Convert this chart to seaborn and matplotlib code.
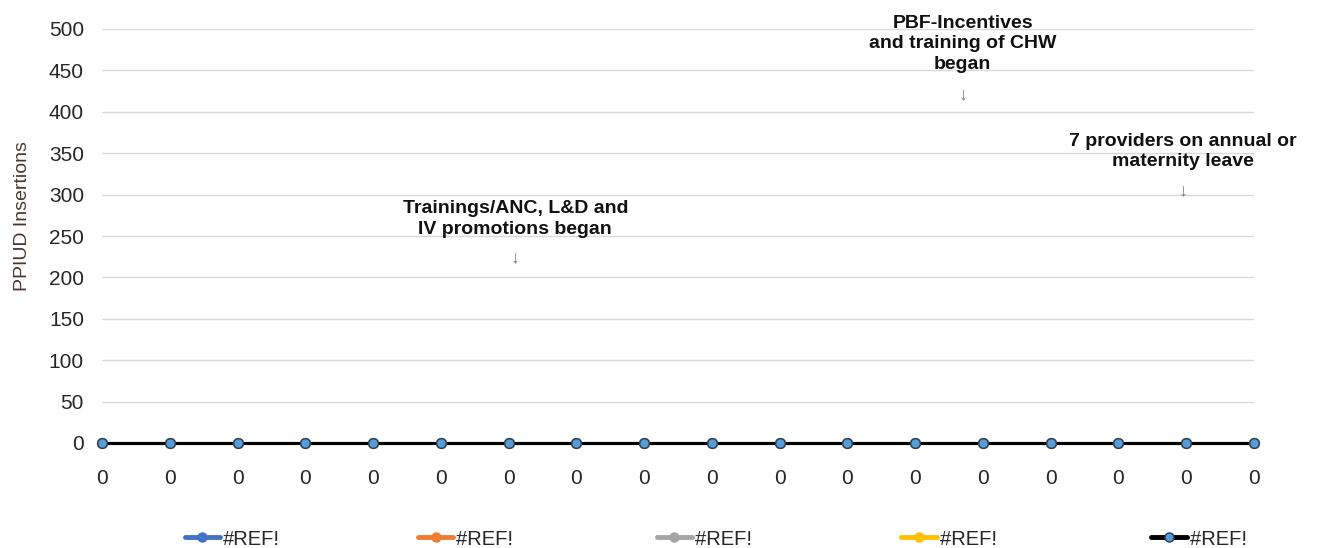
import matplotlib
matplotlib.use("Agg")
import matplotlib.pyplot as plt
from matplotlib.lines import Line2D
import seaborn as sns
import pandas as pd
import numpy as np

# ---- data ----
x_labels = ["0"] * 18
series_names = ["#REF!", "#REF! ", "#REF!  ", "#REF!   ", "#REF!    "]
series_a = [0] * 18
series_b = [0] * 18
series_c = [0] * 18
series_d = [0] * 18
series_e = [0] * 18
y_ticks = [0, 50, 100, 150, 200, 250, 300, 350, 400, 450, 500]

annot_texts = ["Trainings/ANC, L&D and\nIV promotions began",
               "PBF-Incentives\nand training of CHW\nbegan",
               "7 providers on annual or\nmaternity leave"]
annot_x = [6.1, 12.7, 15.95]
annot_text_y = [270, 482, 352]
annot_arrow_y = [224, 420, 304]

sns.set_theme(style="white")
plt.rcParams['font.family'] = ['Liberation Sans', 'DejaVu Sans']

fig = plt.figure(figsize=(13.2, 5.48), dpi=100)
ax = fig.add_axes([102/1320, 1-443/548, (1254-102)/1320, (443-29)/548])

colors = ["#4472C4", "#ED7D31", "#A5A5A5", "#FFC000", "#000000"]
marker_fc = ["#4472C4", "#ED7D31", "#A5A5A5", "#FFC000", "#5B9BD5"]
marker_ec = ["#4472C4", "#ED7D31", "#A5A5A5", "#FFC000", "#1F3F5F"]
all_series = [series_a, series_b, series_c, series_d, series_e]
xpos = np.arange(len(x_labels))

for i, (name, vals) in enumerate(zip(series_names, all_series)):
    df = pd.DataFrame({"x": xpos, "y": vals})
    sns.lineplot(data=df, x="x", y="y", ax=ax, color=colors[i], lw=2.2,
                 marker="o", markersize=7, markerfacecolor=marker_fc[i],
                 markeredgecolor=marker_ec[i], markeredgewidth=1,
                 label=name, clip_on=False, zorder=3 + i)

ax.set_xlim(0, len(x_labels) - 1)
ax.set_ylim(0, 500)
ax.set_yticks(y_ticks)
ax.set_yticklabels([str(v) for v in y_ticks])
ax.set_xticks(xpos)
ax.set_xticklabels(x_labels)
ax.tick_params(axis='both', length=0, labelsize=15, colors="#262626")
ax.tick_params(axis='y', pad=13)
ax.tick_params(axis='x', pad=19)
ax.grid(axis='y', color="#D9D9D9", lw=1)
ax.grid(axis='x', visible=False)
for s in ax.spines.values():
    s.set_visible(False)
ax.set_xlabel("")
ax.set_ylabel("PPIUD Insertions", fontsize=14, color="#4a3535")
ax.yaxis.set_label_coords(-0.062, 0.548)

for t, x, ty, ay in zip(annot_texts, annot_x, annot_text_y, annot_arrow_y):
    ax.text(x, ty, t, ha='center', va='center', fontsize=14, fontweight='bold',
            color="#111111", linespacing=1.3, multialignment='center')
    ax.text(x, ay, "\u2193", ha='center', va='center', fontsize=13,
            color="#6f7f8f")

# legend handles built from the same style as the plotted series
handles = []
for i in range(len(series_names)):
    handles.append(Line2D([], [], color=colors[i], lw=3.5, marker="o", markersize=6.5,
                          markerfacecolor=marker_fc[i], markeredgecolor=marker_ec[i],
                          markeredgewidth=1))
leg = ax.legend(handles, series_names, loc='center',
                bbox_to_anchor=((727 - 102) / 1152, -0.232), ncol=5, frameon=False,
                fontsize=14.5, handlelength=1.75, handletextpad=0.15,
                columnspacing=6.85)
for txt in leg.get_texts():
    txt.set_color("#262626")

fig.savefig("out.png", dpi=100)
